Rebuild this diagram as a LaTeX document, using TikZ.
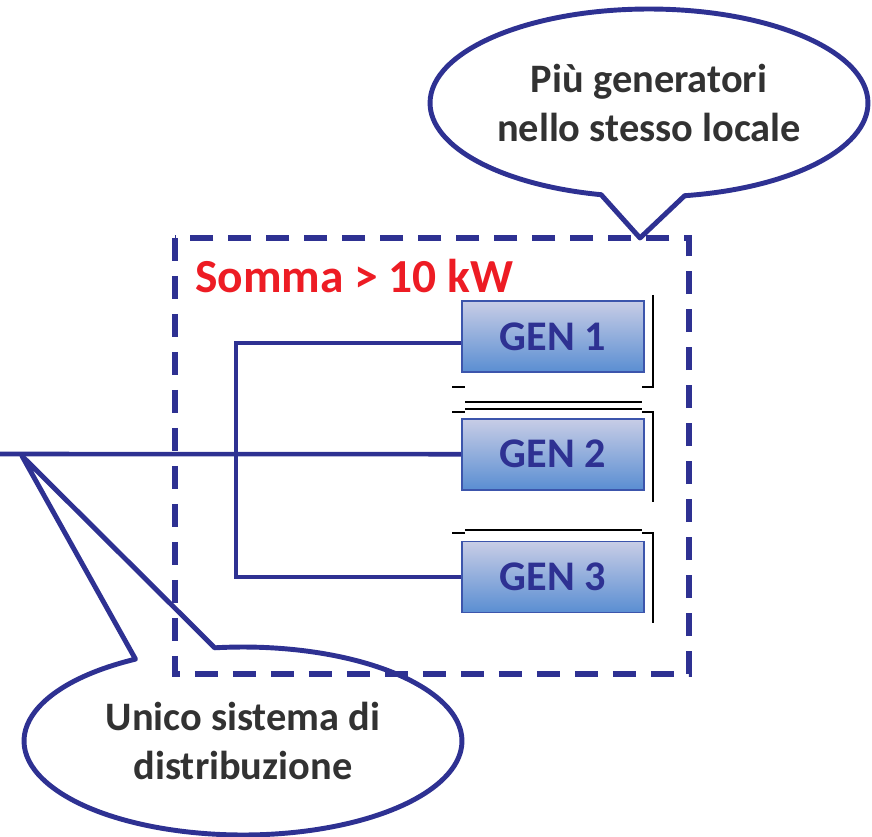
\documentclass[tikz,border=0pt]{standalone}
\usepackage{fontspec}
\setmainfont{Carlito}
\usepackage{tikz}
\usetikzlibrary{positioning,calc,shapes.callouts}
\definecolor{wireblue}{RGB}{46,49,146}
\definecolor{sumred}{RGB}{237,28,36}
\definecolor{textgray}{RGB}{50,50,50}
\definecolor{gentop}{RGB}{200,205,230}
\definecolor{genbot}{RGB}{90,142,210}
\definecolor{genedge}{RGB}{60,85,172}
\tikzset{
  wire/.style={draw=wireblue, line width=2.6pt},
  frame/.style={draw=wireblue, line width=3.4pt, dash pattern=on 0.46cm off 0.30cm},
  gen/.style={draw=genedge, line width=1pt, rectangle, minimum width=3.64cm, minimum height=1.42cm,
    top color=gentop, bottom color=genbot, text=wireblue, font=\fontsize{24}{28}\selectfont\bfseries},
  bubble/.style={ellipse callout, draw=wireblue, line width=2.8pt, line join=round, callout pointer arc=22,
    minimum width=8.76cm, minimum height=3.76cm, inner sep=0pt, align=center,
    text=textgray, font=\fontsize{23}{27.5}\selectfont\bfseries},
  crop/.style={draw=black, line width=0.8pt},
}

\begin{document}
\begin{tikzpicture}[x=0.02cm, y=-0.02cm]
    \useasboundingbox (0,0) rectangle (872,837);

    % generators
    \node[gen] (gen1) at (553,336.5) {GEN 1};
    \node[gen, below=0.9cm of gen1] (gen2) {GEN 2};
    \node[gen, below=1cm of gen2] (gen3) {GEN 3};

    % same room
    \draw[frame] (175,238) rectangle (689,674);
    \node[anchor=base west, text=sumred, font=\fontsize{27}{32}\selectfont\bfseries] (somma) at (189,293) {Somma > 10 kW};

    % wires
    \coordinate (feed) at (0,454);
    \coordinate (bus) at (236,0);
    \coordinate[below=0.13cm of gen1.west] (tap1);
    \draw[wire] (feed) -- (gen2.west);
    \draw[wire] (tap1) -- (tap1 -| bus) |- (gen3.west);

    % callouts
    \coordinate (tipTop) at (640,238);
    \coordinate (tipBot) at (22,456);
    \node[bubble, callout absolute pointer=(tipTop)] (multi) at (649,103) {Più generatori\\nello stesso locale};
    \node[bubble, callout absolute pointer=(tipBot)] (unico) at (243,741) {Unico sistema di\\distribuzione};

    % crop marks
    \draw[crop] (653,295) -- (653,387) -- (642,387);
    \draw[crop] (452,387) -- (465,387);
    \draw[crop] (465,402) -- (642,402);
    \draw[crop] (465,409) -- (642,409);
    \draw[crop] (452,412) -- (465,412);
    \draw[crop] (642,412) -- (653,412) -- (653,502);
    \draw[crop] (465,530) -- (642,530);
    \draw[crop] (452,533) -- (465,533);
    \draw[crop] (642,533) -- (653,533) -- (653,623);
\end{tikzpicture}
\end{document}
